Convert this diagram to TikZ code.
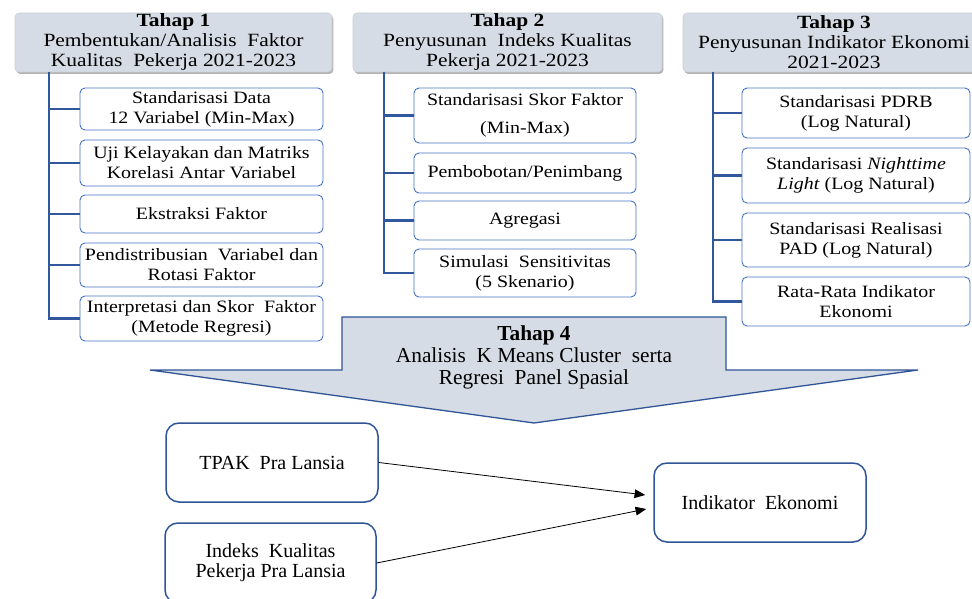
\documentclass[tikz,border=0pt]{standalone}
\usepackage{fontspec}
\setmainfont{Liberation Serif}
\newfontfamily\widefont{Liberation Serif}[FakeStretch=1.15]
\usetikzlibrary{arrows.meta,calc,shadows}

\definecolor{hdrfill}{HTML}{D6DCE5}
\definecolor{darkblue}{HTML}{2F5597}
\definecolor{midblue}{HTML}{4472C4}
\newlength\px \setlength\px{0.75pt}

\tikzset{
  tahap/.style={draw=hdrfill!85!gray, fill=hdrfill, rounded corners=4\px,
    align=center, inner sep=0pt, font=\widefont\fontsize{14}{15}\selectfont,
    drop shadow={shadow xshift=1pt, shadow yshift=-1.5pt, opacity=.6}},
  langkah/.style={draw=midblue, line width=0.9\px, fill=white, rounded corners=5\px,
    align=center, inner sep=0pt, font=\widefont\fontsize{13}{15}\selectfont},
  cabang/.style={draw=darkblue!90!midblue, line width=2.2\px},
  variabel/.style={draw=darkblue, line width=1.5\px, fill=white, rounded corners=13\px,
    align=center, inner sep=0pt, minimum width=212\px, minimum height=79\px,
    font=\fontsize{15}{15}\selectfont},
  panah/.style={-{Triangle[length=8pt,width=6.5pt]}, line width=0.6pt}
}

\begin{document}
\begin{tikzpicture}[x=0.75pt, y=-0.75pt]
\useasboundingbox (0,0) rectangle (972,599);
\clip (0,0) rectangle (972,599);

% tahap 1-3
\node(T1) [tahap, minimum width=317\px, minimum height=59\px] at (173.5,42.5)
  {\textbf{Tahap 1}\\Pembentukan/Analisis\ \ Faktor\\Kualitas\ \ Pekerja 2021-2023};
\node(T2) [tahap, minimum width=309\px, minimum height=59\px] at (507.5,42.5)
  {\textbf{Tahap 2}\\Penyusunan\ \ Indeks Kualitas\\Pekerja 2021-2023};
\node(T3) [tahap, minimum width=302\px, minimum height=59\px] at (834,42.5)
  {\textbf{Tahap 3}\\Penyusunan Indikator Ekonomi\\2021-2023};

\coordinate (P1) at (49,72);
\coordinate (P2) at (384,72);
\coordinate (P3) at (713,72);

\node(S11) [langkah, minimum width=243\px, minimum height=42\px] at (201.5,109)
  {Standarisasi Data\\12 Variabel (Min-Max)};
\node(S12) [langkah, minimum width=243\px, minimum height=46\px] at (201.5,163)
  {Uji Kelayakan dan Matriks\\Korelasi Antar Variabel};
\node(S13) [langkah, minimum width=243\px, minimum height=38\px] at (201.5,214)
  {Ekstraksi Faktor};
\node(S14) [langkah, minimum width=243\px, minimum height=44\px] at (201.5,265)
  {Pendistribusian\ \ Variabel dan\\Rotasi Faktor};
\node(S15) [langkah, minimum width=243\px, minimum height=45\px] at (201.5,318.5)
  {Interpretasi dan Skor\ \ Faktor\\(Metode Regresi)};

\node(S21) [langkah, minimum width=222\px, minimum height=55\px] at (525,115.5)
  {Standarisasi Skor Faktor\\[6pt](Min-Max)};
\node(S22) [langkah, minimum width=222\px, minimum height=40\px] at (525,173)
  {Pembobotan/Penimbang};
\node(S23) [langkah, minimum width=222\px, minimum height=39\px] at (525,220.5)
  {Agregasi};
\node(S24) [langkah, minimum width=222\px, minimum height=48\px] at (525,273)
  {Simulasi\ \ Sensitivitas\\(5 Skenario)};

\node(S31) [langkah, minimum width=228\px, minimum height=50\px] at (856,113)
  {Standarisasi PDRB\\(Log Natural)};
\node(S32) [langkah, minimum width=228\px, minimum height=55\px] at (856,175.5)
  {Standarisasi \textit{Nighttime}\\\textit{Light} (Log Natural)};
\node(S33) [langkah, minimum width=228\px, minimum height=54\px] at (856,240)
  {Standarisasi Realisasi\\PAD (Log Natural)};
\node(S34) [langkah, minimum width=228\px, minimum height=49\px] at (856,301.5)
  {Rata-Rata Indikator\\Ekonomi};

\foreach \s in {S11,S12,S13,S14,S15} \draw[cabang] (P1) |- (\s.west);
\foreach \s in {S21,S22,S23,S24} \draw[cabang] (P2) |- (\s.west);
\foreach \s in {S31,S32,S33,S34} \draw[cabang] (P3) |- (\s.west);

% tahap 4
\draw[draw=darkblue, line width=1.3\px, fill=hdrfill]
  (342,317) -- (726,317) -- (726,370) -- (918,370) -- (534,423)
  -- (150,370) -- (342,370) -- cycle;
\node(T4) [align=center, font=\fontsize{16}{16.5}\selectfont] at (534,357)
  {\textbf{Tahap 4}\\Analisis\ \ K Means Cluster\ \ serta\\Regresi\ \ Panel Spasial};

% model
\node(tpak) [variabel] at (272,462.5) {TPAK\ \ Pra Lansia};
\node(ikp)  [variabel, minimum width=211\px, minimum height=80\px] at (270.5,563)
  {Indeks\ \ Kualitas\\Pekerja Pra Lansia};
\node(ind)  [variabel] at (760,502.5) {Indikator\ \ Ekonomi};

\coordinate (m1) at ($(ind.west)+(-8,-7.5)$);
\coordinate (m2) at ($(ind.west)+(-7,6.5)$);
\draw[panah] (tpak.east) -- (m1);
\draw[panah] (ikp.east) -- (m2);
\end{tikzpicture}
\end{document}
